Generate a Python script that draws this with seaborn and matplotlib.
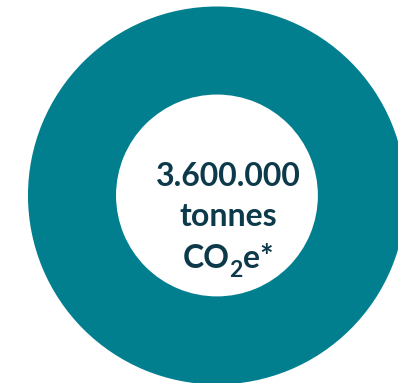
import matplotlib
matplotlib.use("Agg")
import matplotlib.pyplot as plt
from matplotlib.transforms import offset_copy
import seaborn as sns

# Total emissions shown as a single-ring donut
segments = ["Total emissions"]
values = [3600000]
total_label = "3.600.000"
unit_label = "tonnes"
gas_parts = ["CO", "2", "e*"]

ring_color = "#027f8f"
text_color = "#0d3a4b"

sns.set_theme(style="white")
plt.rcParams["font.family"] = ["Lato", "DejaVu Sans"]

fig = plt.figure(figsize=(3.98, 3.83), dpi=100)
ax = fig.add_axes([0, 0, 1, 1])

ax.pie(values, labels=None, colors=[ring_color] * len(segments),
       radius=1.0, startangle=90, counterclock=False,
       wedgeprops=dict(width=0.466, edgecolor="none"))

ax.set_xlim(-1.148, 0.958)
ax.set_ylim(-0.992, 1.034)
ax.set_aspect("equal")
ax.axis("off")

size = 23
style = dict(fontweight="bold", color=text_color)
tx = 0.058
ax.text(tx, 0.10, total_label, ha="center", va="center", fontsize=size, **style)
ax.text(tx, -0.11, unit_label, ha="center", va="center", fontsize=size, **style)

# Third line: "CO" + lowered subscript "2" + "e*", laid out piece by piece
renderer = fig.canvas.get_renderer()
base_y = -0.385
sizes = [size, size * 0.72, size]
drops = [0, -6.5, 0]  # vertical offsets in points
pieces = []
for text, fs, dy in zip(gas_parts, sizes, drops):
    t = ax.text(0, base_y, text, ha="left", va="baseline", fontsize=fs, **style)
    pieces.append((t, dy))
widths = [t.get_window_extent(renderer).width for t, _ in pieces]
total_w = sum(widths)
x0_px = ax.transData.transform((tx, base_y))[0] - total_w / 2
x_px = x0_px
for (t, dy), w in zip(pieces, widths):
    x_data = ax.transData.inverted().transform((x_px, 0))[0]
    t.set_x(x_data)
    t.set_transform(offset_copy(ax.transData, fig=fig, x=0, y=dy, units="points"))
    x_px += w

fig.savefig("out.png", dpi=100, facecolor="white")
